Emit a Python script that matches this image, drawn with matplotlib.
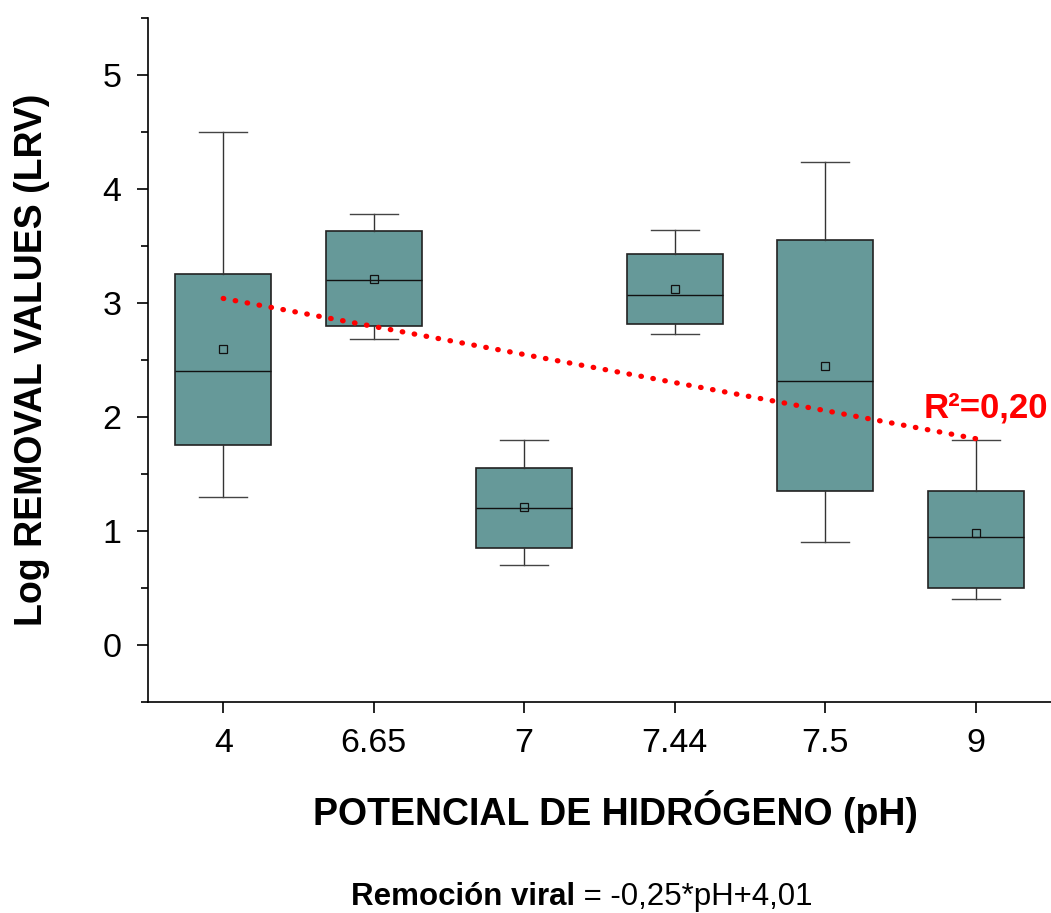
import matplotlib.pyplot as plt

plt.rcParams['font.family'] = ['Liberation Sans', 'DejaVu Sans']

ph_labels = ['4', '6.65', '7', '7.44', '7.5', '9']
whisker_low = [1.30, 2.68, 0.70, 2.73, 0.90, 0.40]
q1 = [1.75, 2.80, 0.85, 2.82, 1.35, 0.50]
median = [2.40, 3.20, 1.20, 3.07, 2.32, 0.95]
q3 = [3.25, 3.63, 1.55, 3.43, 3.55, 1.35]
whisker_high = [4.50, 3.78, 1.80, 3.64, 4.24, 1.80]
means = [2.60, 3.21, 1.21, 3.12, 2.45, 0.98]

# trend line ends (drawn on the category axis)
trend_y = [3.04, 1.81]
r2_text = 'R²=0,20'

fig = plt.figure(figsize=(10.51, 9.13), dpi=100)
ax = fig.add_axes([0.1408, 0.2311, 0.8592, 0.7492])

stats = []
for i in range(len(ph_labels)):
    stats.append(dict(whislo=whisker_low[i], q1=q1[i], med=median[i],
                      q3=q3[i], whishi=whisker_high[i], mean=means[i]))

pos = list(range(len(ph_labels)))
ax.bxp(stats, positions=pos, widths=0.64, patch_artist=True, showmeans=True,
       showfliers=False,
       boxprops=dict(facecolor='#669999', edgecolor='#222222', linewidth=1.2),
       medianprops=dict(color='#111111', linewidth=1.0),
       whiskerprops=dict(color='#333333', linewidth=1.0),
       capprops=dict(color='#444444', linewidth=1.0),
       capwidths=0.32,
       meanprops=dict(marker='s', markersize=6, markerfacecolor='none',
                      markeredgecolor='#111111', markeredgewidth=0.9))

ax.plot([pos[0], pos[-1]], trend_y, color='red', linewidth=3.8,
        linestyle=(0, (0.1, 2.2)), dash_capstyle='round', zorder=5)
ax.text(5.48, 2.08, r2_text, color='red', fontsize=25, fontweight='bold',
        ha='right', va='center')

ax.set_xlim(-0.5, 5.5)
ax.set_ylim(-0.5, 5.5)
ax.set_xticks(pos)
ax.set_xticklabels(ph_labels)
ax.set_yticks([0, 1, 2, 3, 4, 5])
ax.set_yticks([-0.5, 0.5, 1.5, 2.5, 3.5, 4.5, 5.5], minor=True)
ax.tick_params(axis='both', which='major', direction='out', length=8,
               width=1.2, labelsize=24.5, pad=11)
ax.tick_params(axis='y', which='minor', direction='out', length=5, width=1.2)

for s in ['top', 'right']:
    ax.spines[s].set_visible(False)
for s in ['left', 'bottom']:
    ax.spines[s].set_linewidth(1.2)

ax.set_xlabel('POTENCIAL DE HIDRÓGENO (pH)', fontsize=27, fontweight='bold')
ax.xaxis.set_label_coords(0.518, -0.129)
ax.set_ylabel('Log REMOVAL VALUES (LRV)', fontsize=27, fontweight='bold')
ax.yaxis.set_label_coords(-0.1085, 0.5)

fig.text(0.547, 0.0175, 'Remoción viral', fontsize=22.5, fontweight='bold',
         ha='right', va='center')
fig.text(0.547, 0.0175, ' = -0,25*pH+4,01', fontsize=22.5,
         ha='left', va='center')

fig.savefig('out.png', dpi=100)
